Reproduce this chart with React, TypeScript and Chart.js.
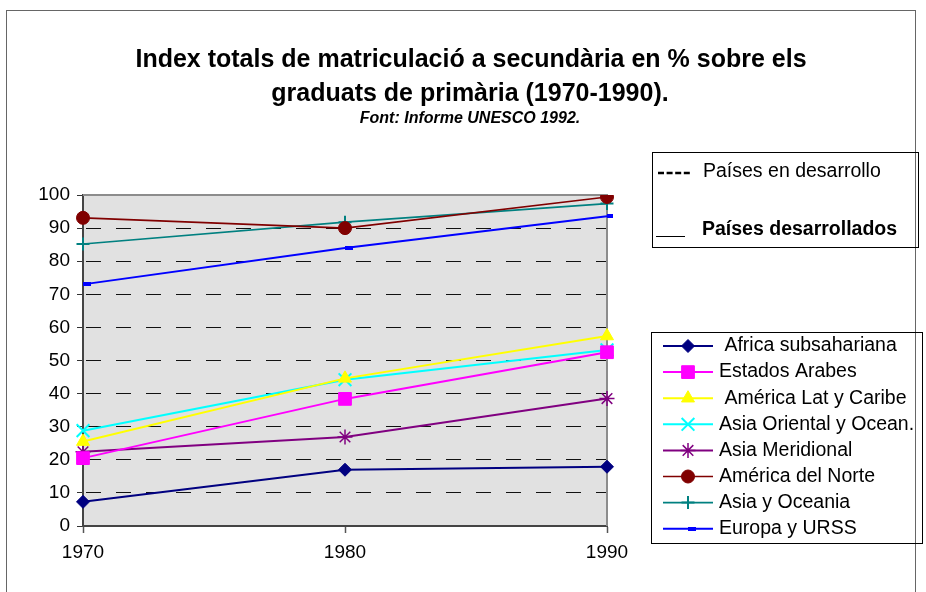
import React, { useEffect, useRef } from 'react';
import { Chart, registerables } from 'chart.js';
import { drawPoint } from 'chart.js/helpers';

Chart.register(...registerables);

// ---------- data ----------
const years = ['1970', '1980', '1990'];
const seriesNames = [
  ' Africa subsahariana',
  'Estados Arabes',
  ' América Lat y Caribe',
  'Asia Oriental y Ocean.',
  'Asia Meridional',
  'América del Norte',
  'Asia y Oceania',
  'Europa y URSS',
];
const africa = [7.3, 17.0, 17.9];
const estadosArabes = [20.5, 38.4, 52.5];
const americaLat = [25.5, 44.6, 57.4];
const asiaOriental = [28.8, 44.2, 53.2];
const asiaMeridional = [22.4, 26.9, 38.5];
const americaNorte = [93.1, 90.0, 99.4];
const asiaOceania = [85.2, 91.8, 97.4];
const europa = [73.0, 84.0, 93.6];
const seriesValues = [africa, estadosArabes, americaLat, asiaOriental, asiaMeridional, americaNorte, asiaOceania, europa];

const titleLines = ['Index totals de matriculació a secundària en % sobre els', 'graduats de primària (1970-1990).'];
const subtitle = 'Font: Informe UNESCO 1992.';
const groupLabels = ['Países en desarrollo', 'Países desarrollados'];
const yMin = 0;
const yMax = 100;
const yStep = 10;

const FONT = "'Liberation Sans', Arial, sans-serif";

function makeBarMarker(color: string) {
  const c = document.createElement('canvas');
  c.width = 18;
  c.height = 4;
  const g = c.getContext('2d')!;
  g.fillStyle = color;
  g.fillRect(9, 0, 8, 4);
  return c;
}

export default function App() {
  const ref = useRef<HTMLCanvasElement | null>(null);

  useEffect(() => {
    const canvas = ref.current!;
    const barMarker = makeBarMarker('#0000FF');
    const styles: any[] = [
      { color: '#000080', pointStyle: 'rectRot', radius: 6.5, bw: 1, lw: 2 },
      { color: '#FF00FF', pointStyle: 'rect', radius: 9, bw: 1, lw: 2 },
      { color: '#FFFF00', pointStyle: 'triangle', radius: 7.5, bw: 1, lw: 2 },
      { color: '#00FFFF', pointStyle: 'crossRot', radius: 9, bw: 2, lw: 2 },
      { color: '#800080', pointStyle: 'star', radius: 7.5, bw: 1.5, lw: 2 },
      { color: '#800000', pointStyle: 'circle', radius: 6.5, bw: 1, lw: 1.6 },
      { color: '#008080', pointStyle: 'cross', radius: 6.5, bw: 2, lw: 1.6 },
      { color: '#0000FF', pointStyle: barMarker, radius: 5, bw: 1, lw: 2 },
    ];

    const datasets = seriesValues.map((vals, i) => ({
      label: seriesNames[i],
      data: vals,
      borderColor: styles[i].color,
      backgroundColor: styles[i].color,
      borderWidth: styles[i].lw,
      pointStyle: styles[i].pointStyle,
      pointRadius: styles[i].radius,
      pointBorderWidth: styles[i].bw,
      pointBackgroundColor: styles[i].color,
      pointBorderColor: styles[i].color,
      tension: 0,
      fill: false,
    }));

    const decor = {
      id: 'decor',
      beforeDraw(chart: any) {
        const { ctx, chartArea: a } = chart;
        ctx.save();
        ctx.fillStyle = '#ffffff';
        ctx.fillRect(0, 0, chart.width, chart.height);
        ctx.strokeStyle = '#666666';
        ctx.lineWidth = 1;
        ctx.strokeRect(6.5, 10.5, 909, 700);
        ctx.fillStyle = '#E1E1E1';
        ctx.fillRect(a.left, a.top, a.right - a.left, a.bottom - a.top);
        ctx.restore();
      },
      beforeDatasetsDraw(chart: any) {
        const { ctx, chartArea: a } = chart;
        ctx.save();
        ctx.strokeStyle = '#8c8c8c';
        ctx.lineWidth = 2;
        ctx.beginPath();
        ctx.moveTo(a.left, a.top);
        ctx.lineTo(a.right, a.top);
        ctx.lineTo(a.right, a.bottom);
        ctx.stroke();
        ctx.restore();
      },
      afterDraw(chart: any) {
        const { ctx } = chart;
        ctx.save();
        // title
        ctx.fillStyle = '#000';
        ctx.textAlign = 'center';
        ctx.textBaseline = 'middle';
        ctx.font = `bold 25px ${FONT}`;
        ctx.fillText(titleLines[0], 471, 60);
        ctx.fillText(titleLines[1], 470, 94);
        ctx.font = `italic bold 16px ${FONT}`;
        ctx.fillText(subtitle, 470, 119);

        // group legend
        ctx.strokeStyle = '#000';
        ctx.lineWidth = 1;
        ctx.strokeRect(652.5, 152.5, 266, 95);
        ctx.lineWidth = 2.5;
        ctx.setLineDash([6, 2.6]);
        ctx.beginPath();
        ctx.moveTo(658, 173);
        ctx.lineTo(690, 173);
        ctx.stroke();
        ctx.setLineDash([]);
        ctx.lineWidth = 1;
        ctx.beginPath();
        ctx.moveTo(656, 236.5);
        ctx.lineTo(685, 236.5);
        ctx.stroke();
        ctx.textAlign = 'left';
        ctx.font = `19.5px ${FONT}`;
        ctx.fillText(groupLabels[0], 703, 172);
        ctx.font = `bold 19.5px ${FONT}`;
        ctx.fillText(groupLabels[1], 702, 230);

        // series legend
        ctx.lineWidth = 1;
        ctx.strokeStyle = '#000';
        ctx.strokeRect(651.5, 332.5, 271, 211);
        chart.data.datasets.forEach((ds: any, i: number) => {
          const y = 346 + i * 26.1;
          ctx.save();
          ctx.strokeStyle = ds.borderColor;
          ctx.lineWidth = ds.borderWidth;
          ctx.beginPath();
          ctx.moveTo(663, y);
          ctx.lineTo(713, y);
          ctx.stroke();
          ctx.fillStyle = ds.pointBackgroundColor;
          ctx.strokeStyle = ds.pointBorderColor;
          ctx.lineWidth = ds.pointBorderWidth;
          drawPoint(ctx, {
            pointStyle: ds.pointStyle,
            rotation: 0,
            radius: ds.pointRadius,
            borderWidth: ds.pointBorderWidth,
          } as any, 688, y);
          ctx.restore();
          ctx.fillStyle = '#000';
          ctx.font = `19.5px ${FONT}`;
          ctx.textAlign = 'left';
          ctx.textBaseline = 'middle';
          ctx.fillText(ds.label, 719, y);
        });
        ctx.restore();
      },
    };

    const chart = new Chart(canvas, {
      type: 'line',
      data: { labels: years, datasets },
      options: {
        animation: false,
        responsive: false,
        devicePixelRatio: 1,
        layout: { padding: { top: 195, right: 926 - 607, bottom: 0, left: 0 } },
        plugins: {
          legend: { display: false },
          title: { display: false },
          tooltip: { enabled: false },
        },
        scales: {
          x: {
            type: 'category',
            offset: false,
            afterFit: (s: any) => { s.height = 592 - 526; },
            grid: {
              display: true,
              drawOnChartArea: false,
              drawTicks: true,
              tickLength: 7,
              tickColor: '#555',
              tickWidth: 1.5,
            },
            border: { display: true, color: '#444', width: 2 },
            ticks: {
              color: '#000',
              font: { family: FONT, size: 19 },
              padding: 8,
              maxRotation: 0,
            },
          },
          y: {
            min: yMin,
            max: yMax,
            afterFit: (s: any) => { s.width = 83; },
            grid: {
              color: (c: any) => (c.tick && (c.tick.value === yMin || c.tick.value === yMax) ? 'rgba(0,0,0,0)' : '#111'),
              lineWidth: 1,
              tickLength: 6,
              tickColor: '#333',
              tickWidth: 1,
            },
            border: { display: true, color: '#444', width: 2, dash: [15, 15], dashOffset: -2 },
            ticks: {
              stepSize: yStep,
              color: '#000',
              font: { family: FONT, size: 19 },
              padding: 7,
            },
          },
        },
      } as any,
      plugins: [decor],
    });

    return () => chart.destroy();
  }, []);

  return (
    <div style={{ position: 'absolute', left: 0, top: 0, width: 926, height: 592 }}>
      <canvas ref={ref} width={926} height={592} style={{ display: 'block', width: 926, height: 592 }} />
    </div>
  );
}
